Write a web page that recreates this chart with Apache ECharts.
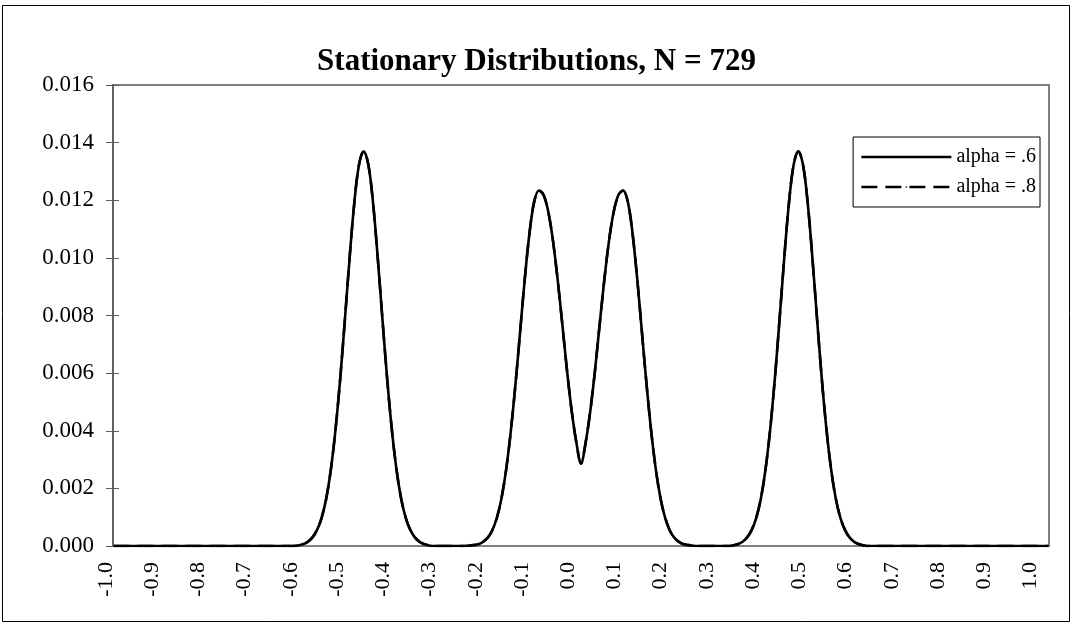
<!DOCTYPE html>
<html>
<head>
<meta charset="utf-8">
<script src="https://cdn.jsdelivr.net/npm/echarts@6/dist/echarts.min.js"></script>
<style>
html,body{margin:0;padding:0;background:#fff;}
#chart{width:1073px;height:636px;}
</style>
</head>
<body>
<div id="chart"></div>
<script>
// ---- data ----
var titleText = 'Stationary Distributions, N = 729';
var seriesNames = ['alpha = .6', 'alpha = .8'];
var yTicks = [0, 0.016, 0.002]; // min, max, step

var xs = [
  -1.0, -0.62,
  -0.615, -0.605, -0.595, -0.585, -0.575, -0.565, -0.555, -0.545, -0.535, -0.525,
  -0.515, -0.505, -0.495, -0.485, -0.475, -0.465, -0.455, -0.445, -0.435, -0.425,
  -0.415, -0.405, -0.395, -0.385, -0.375, -0.365, -0.355, -0.345, -0.335, -0.325, -0.315,
  -0.25, -0.24, -0.23, -0.22, -0.21, -0.20, -0.19, -0.18, -0.17, -0.16, -0.15, -0.14,
  -0.13, -0.12, -0.11, -0.10, -0.09, -0.08, -0.07, -0.06, -0.05, -0.04, -0.03, -0.02, -0.01,
  0.00,
  0.01, 0.02, 0.03, 0.04, 0.05, 0.06, 0.07, 0.08, 0.09, 0.10, 0.11, 0.12, 0.13,
  0.14, 0.15, 0.16, 0.17, 0.18, 0.19, 0.20, 0.21, 0.22, 0.23, 0.24, 0.25,
  0.315, 0.325, 0.335, 0.345, 0.355, 0.365, 0.375, 0.385, 0.395, 0.405, 0.415,
  0.425, 0.435, 0.445, 0.455, 0.465, 0.475, 0.485, 0.495, 0.505, 0.515, 0.525,
  0.535, 0.545, 0.555, 0.565, 0.575, 0.585, 0.595, 0.605, 0.615,
  0.62, 1.0
];

var alpha6 = [
  0, 0,
  0, 0.00002, 0.00006, 0.00014, 0.00029, 0.00055, 0.00098, 0.00166, 0.00268, 0.00408,
  0.00585, 0.00790, 0.01002, 0.01192, 0.01323, 0.01370, 0.01323, 0.01192, 0.01002, 0.00790,
  0.00585, 0.00408, 0.00268, 0.00166, 0.00098, 0.00055, 0.00029, 0.00014, 0.00006, 0.00002, 0,
  0, 0.00001, 0.00003, 0.00006, 0.00014, 0.00028, 0.00054, 0.00098, 0.00167, 0.00267, 0.00401, 0.00565,
  0.00748, 0.00932, 0.01089, 0.01196, 0.01234, 0.01218, 0.01160, 0.01060, 0.00925, 0.00770, 0.00610, 0.00470, 0.00360,
  0.00286,
  0.00360, 0.00470, 0.00610, 0.00770, 0.00925, 0.01060, 0.01160, 0.01218, 0.01234, 0.01196, 0.01089, 0.00932, 0.00748,
  0.00565, 0.00401, 0.00267, 0.00167, 0.00098, 0.00054, 0.00028, 0.00014, 0.00006, 0.00003, 0.00001, 0,
  0, 0.00002, 0.00006, 0.00014, 0.00029, 0.00055, 0.00098, 0.00166, 0.00268, 0.00408, 0.00585,
  0.00790, 0.01002, 0.01192, 0.01323, 0.01370, 0.01323, 0.01192, 0.01002, 0.00790, 0.00585, 0.00408,
  0.00268, 0.00166, 0.00098, 0.00055, 0.00029, 0.00014, 0.00006, 0.00002, 0,
  0, 0
];

var alpha8 = [
  0, 0,
  0, 0.00002, 0.00006, 0.00014, 0.00029, 0.00055, 0.00098, 0.00166, 0.00268, 0.00408,
  0.00585, 0.00790, 0.01002, 0.01192, 0.01323, 0.01370, 0.01323, 0.01192, 0.01002, 0.00790,
  0.00585, 0.00408, 0.00268, 0.00166, 0.00098, 0.00055, 0.00029, 0.00014, 0.00006, 0.00002, 0,
  0, 0.00001, 0.00003, 0.00006, 0.00014, 0.00028, 0.00054, 0.00098, 0.00167, 0.00267, 0.00401, 0.00565,
  0.00748, 0.00932, 0.01089, 0.01196, 0.01234, 0.01218, 0.01160, 0.01060, 0.00925, 0.00770, 0.00610, 0.00470, 0.00360,
  0.00286,
  0.00360, 0.00470, 0.00610, 0.00770, 0.00925, 0.01060, 0.01160, 0.01218, 0.01234, 0.01196, 0.01089, 0.00932, 0.00748,
  0.00565, 0.00401, 0.00267, 0.00167, 0.00098, 0.00054, 0.00028, 0.00014, 0.00006, 0.00003, 0.00001, 0,
  0, 0.00002, 0.00006, 0.00014, 0.00029, 0.00055, 0.00098, 0.00166, 0.00268, 0.00408, 0.00585,
  0.00790, 0.01002, 0.01192, 0.01323, 0.01370, 0.01323, 0.01192, 0.01002, 0.00790, 0.00585, 0.00408,
  0.00268, 0.00166, 0.00098, 0.00055, 0.00029, 0.00014, 0.00006, 0.00002, 0,
  0, 0
];

// x axis: 729 states from -1 to 1, label every 36th state
var nStates = 729;
var labelEvery = 36;

// ---- chart ----
var FONT = 'Liberation Serif, Times New Roman, serif';
var half = 1 / (nStates - 1);            // half a category width in x units
var xMin = -1 - half, xMax = 1 + half;
var xStep = labelEvery * 2 / (nStates - 1);

function pairs(ys) { return xs.map(function (x, i) { return [x, ys[i]]; }); }

var chart = echarts.init(document.getElementById('chart'), null, {renderer: 'canvas'});
chart.setOption({
  backgroundColor: '#fff',
  animation: false,
  title: {
    text: titleText, left: 'center', top: 41,
    textStyle: {fontFamily: FONT, fontWeight: 'bold', fontSize: 31, color: '#000'}
  },
  grid: {left: 113, right: 24, top: 85, bottom: 90, show: true, borderColor: '#808080', borderWidth: 2, backgroundColor: '#fff'},
  legend: {
    orient: 'vertical', right: 33, top: 137,
    data: seriesNames,
    itemWidth: 90, itemHeight: 2, itemGap: 8,
    lineStyle: {width: 2.6},
    backgroundColor: '#fff', borderColor: '#000', borderWidth: 1, padding: [9, 4, 9, 7],
    textStyle: {fontFamily: FONT, fontSize: 20, lineHeight: 22, color: '#000'}
  },
  xAxis: {
    type: 'value', min: xMin, max: xMax, interval: xStep,
    axisLine: {show: true, lineStyle: {color: '#808080', width: 2}, onZero: false},
    axisTick: {show: false},
    splitLine: {show: false},
    axisLabel: {
      rotate: 90, margin: 16, fontFamily: FONT, fontSize: 22, color: '#000',
      verticalAlign: 'bottom', lineHeight: 14,
      showMaxLabel: false,
      formatter: function (v) { var s = (Math.round(v * 10) / 10).toFixed(1); return s === '-0.0' ? '0.0' : s; }
    }
  },
  yAxis: [{
    type: 'value', min: yTicks[0], max: yTicks[1], interval: yTicks[2], position: 'left',
    axisLine: {show: true, onZero: false, lineStyle: {color: '#606060', width: 2}},
    axisTick: {show: true, length: 7, lineStyle: {color: '#606060', width: 1}},
    splitLine: {show: false},
    axisLabel: {margin: 19, fontFamily: FONT, fontSize: 23, color: '#000', formatter: function (v) { return v.toFixed(3); }}
  }, {
    type: 'value', min: yTicks[0], max: yTicks[1], interval: yTicks[2], position: 'left', offset: 0,
    axisLine: {show: false, onZero: false},
    axisTick: {show: true, inside: true, length: 6, lineStyle: {color: '#606060', width: 1}},
    axisLabel: {show: false}, splitLine: {show: false}
  }],
  series: [{
    name: seriesNames[0], type: 'line', data: pairs(alpha6), symbol: 'none', showSymbol: false, smooth: 0.35,
    lineStyle: {color: '#000', width: 2.6, type: 'solid'}, itemStyle: {color: '#000'}, z: 3
  }, {
    name: seriesNames[1], type: 'line', data: pairs(alpha8), symbol: 'none', showSymbol: false, smooth: 0.35,
    lineStyle: {color: '#000', width: 2.6, type: [16, 8]}, itemStyle: {color: '#000'}, z: 4
  }],
  graphic: [{
    type: 'rect', shape: {x: 2.5, y: 5.5, width: 1067, height: 616},
    style: {fill: 'none', stroke: '#000', lineWidth: 1}, silent: true, z: -1
  }]
});
</script>
</body>
</html>
